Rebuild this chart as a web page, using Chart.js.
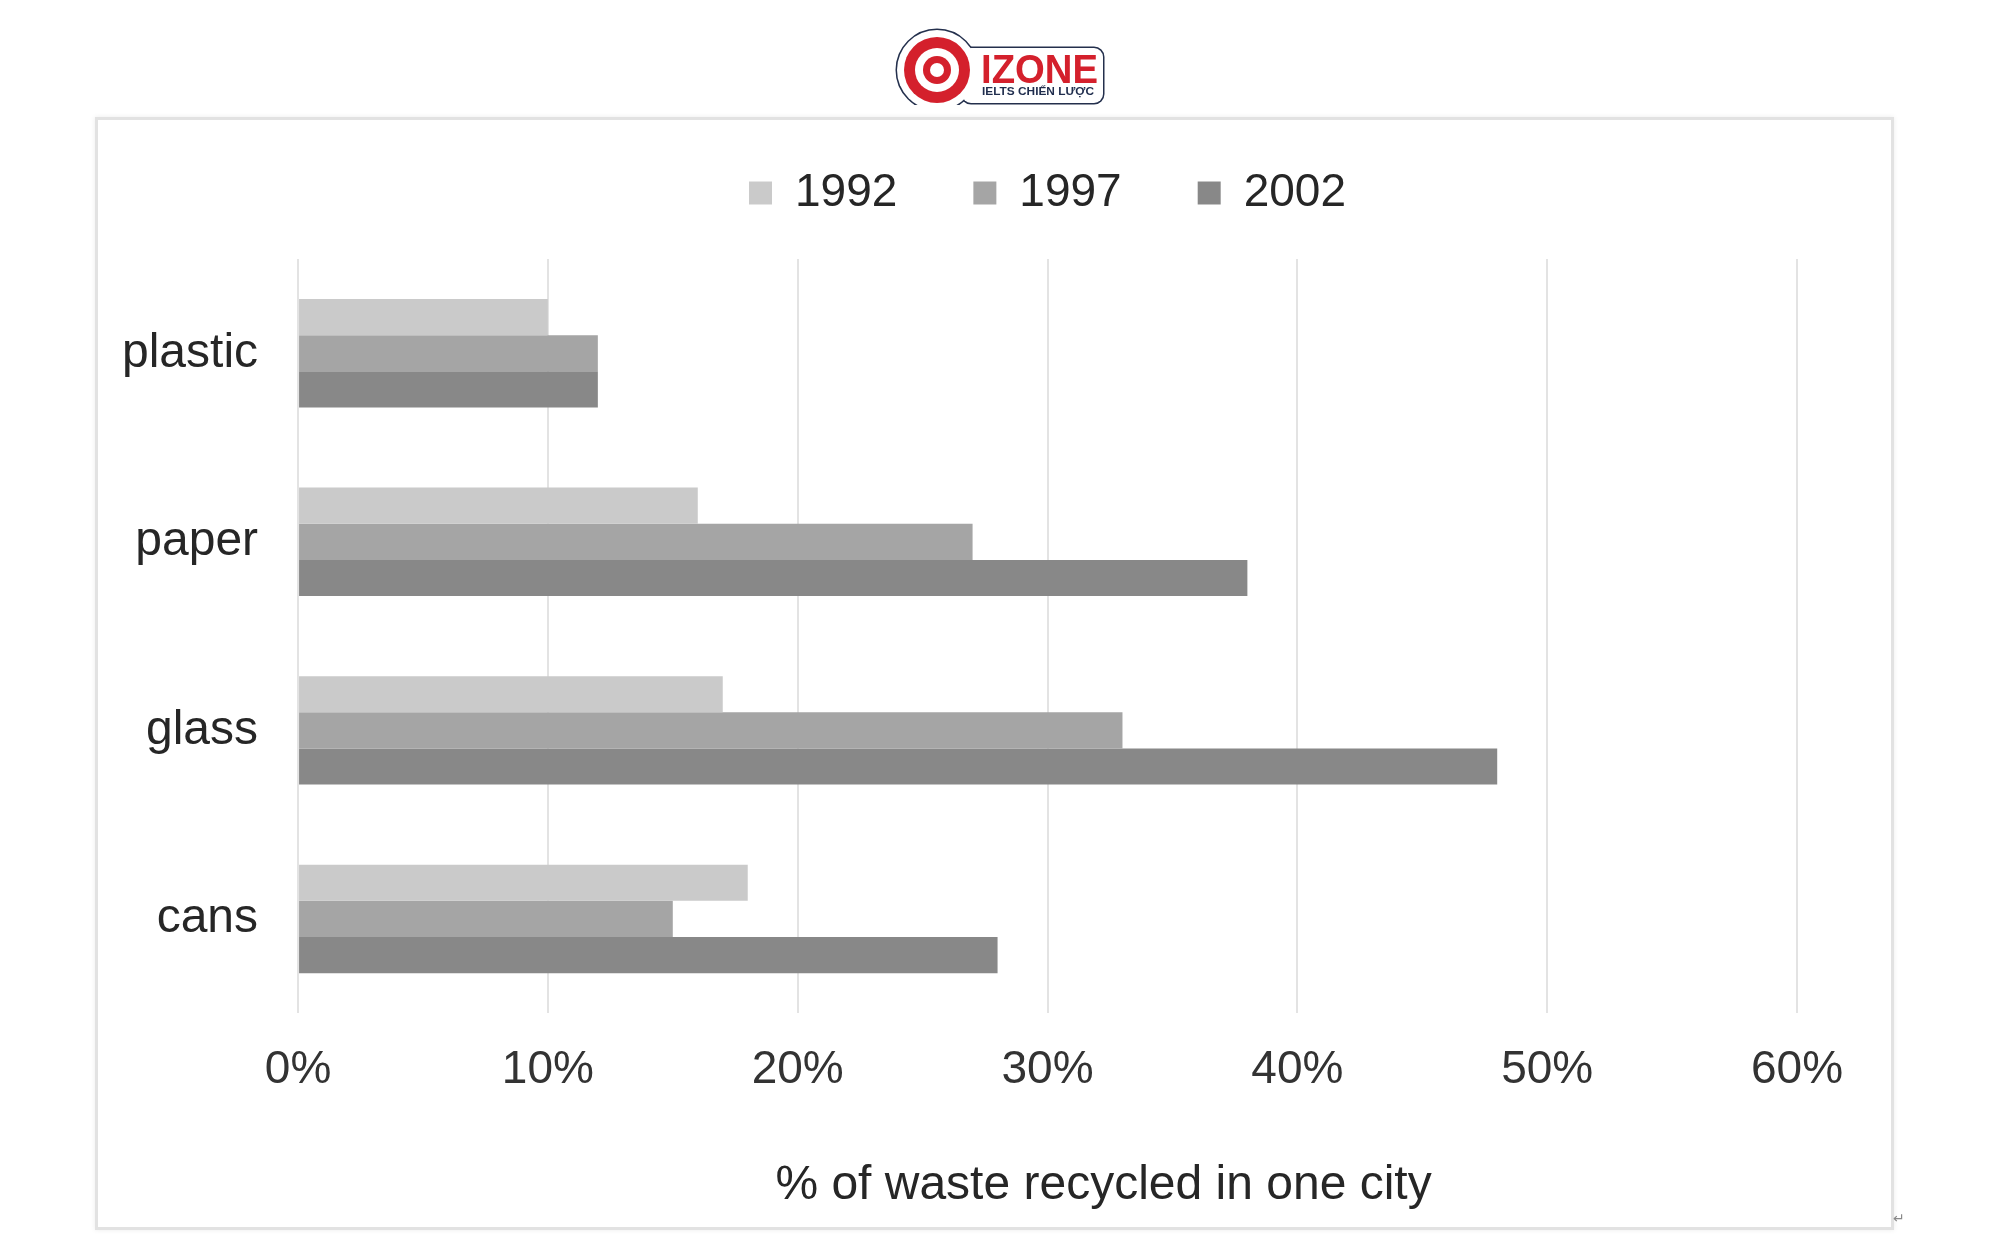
<!DOCTYPE html>
<html>
<head>
<meta charset="utf-8">
<script src="https://cdn.jsdelivr.net/npm/chart.js@4"></script>
<style>
  html, body { margin: 0; padding: 0; background: #fff; }
  #page { position: relative; width: 2000px; height: 1250px; overflow: hidden; }
  #frame {
    position: absolute; left: 95px; top: 117px; width: 1793px; height: 1107px;
    border: 3px solid #e2e2e2; box-shadow: 0 0 5px rgba(0,0,0,0.08);
  }
  #chart { position: absolute; left: 0; top: 0; }
  #logo { position: absolute; left: 890px; top: 22px; }
  #ret { position: absolute; left: 1893px; top: 1210px; font: 14px "DejaVu Sans"; color: #888; }
</style>
</head>
<body>
<div id="page">
  <div id="frame"></div>
  <canvas id="chart" width="2000" height="1250"></canvas>
  <svg id="logo" width="224" height="83" viewBox="0 0 224 83">
    <g stroke="#24304d" stroke-width="3" fill="#fff">
      <circle cx="47" cy="48" r="40"/>
      <rect x="72" y="26" width="141" height="55" rx="9"/>
    </g>
    <g fill="#fff">
      <circle cx="47" cy="48" r="40"/>
      <rect x="72" y="26" width="141" height="55" rx="9"/>
    </g>
    <circle cx="47" cy="48" r="33" fill="#d4202c"/>
    <circle cx="47" cy="48" r="22" fill="#fff"/>
    <circle cx="47" cy="48" r="14" fill="#d4202c"/>
    <circle cx="47" cy="48" r="7" fill="#fff"/>
    <text x="91" y="61" font-family="Liberation Sans, Arial" font-weight="bold" font-size="40" fill="#d4202c" textLength="117" lengthAdjust="spacingAndGlyphs">IZONE</text>
    <text x="92" y="73" font-family="Liberation Sans, Arial" font-weight="bold" font-size="11.5" fill="#1f2d4d" textLength="112" lengthAdjust="spacingAndGlyphs">IELTS CHIẾN LƯỢC</text>
  </svg>
  <span id="ret">↵</span>
</div>
<script>
const categories = ['plastic', 'paper', 'glass', 'cans'];
const years = ['1992', '1997', '2002'];
const values1992 = [10, 16, 17, 18];
const values1997 = [12, 27, 33, 15];
const values2002 = [12, 38, 48, 28];
const xTicks = [0, 10, 20, 30, 40, 50, 60];
const colors = ['#cacaca', '#a5a5a5', '#888888'];
const xTitle = '% of waste recycled in one city';

const font = 'Liberation Sans, Arial, sans-serif';

// keep the legend short so the plot starts where the reference does
const legendHeight = {
  id: 'legendHeight',
  beforeInit(chart) {
    const fit = chart.legend.fit;
    chart.legend.fit = function () {
      fit.call(this);
      this.height = 165;
    };
  }
};

// the axis title sits right of the plot centre in the original
const shiftedTitle = {
  id: 'shiftedTitle',
  afterDraw(chart) {
    const x = chart.scales.x;
    const c = chart.ctx;
    c.save();
    c.font = '48px ' + font;
    c.fillStyle = '#262626';
    c.textAlign = 'center';
    c.textBaseline = 'middle';
    c.fillText(xTitle, (chart.chartArea.left + chart.chartArea.right) / 2 + 56, x.bottom - 29);
    c.restore();
  }
};

const ctx = document.getElementById('chart').getContext('2d');
new Chart(ctx, {
  type: 'bar',
  data: {
    labels: categories,
    datasets: [
      { label: years[0], data: values1992, backgroundColor: colors[0] },
      { label: years[1], data: values1997, backgroundColor: colors[1] },
      { label: years[2], data: values2002, backgroundColor: colors[2] }
    ]
  },
  plugins: [legendHeight, shiftedTitle],
  options: {
    indexAxis: 'y',
    responsive: false,
    animation: false,
    devicePixelRatio: 1,
    categoryPercentage: 0.575,
    barPercentage: 1,
    layout: { padding: { left: 82, right: 203, top: 94, bottom: 35 } },
    plugins: {
      legend: {
        position: 'top',
        fullSize: false,
        labels: {
          boxWidth: 23,
          boxHeight: 23,
          padding: 76,
          color: '#262626',
          font: { family: font, size: 46 }
        }
      },
      tooltip: { enabled: false }
    },
    scales: {
      x: {
        min: xTicks[0],
        max: xTicks[xTicks.length - 1],
        afterBuildTicks: axis => { axis.ticks = xTicks.map(v => ({ value: v })); },
        grid: { color: '#e3e3e3', lineWidth: 2, drawTicks: false },
        border: { display: false },
        ticks: {
          padding: 30,
          color: '#333',
          font: { family: font, size: 46 },
          callback: v => v + '%'
        },
        title: {
          display: true,
          text: xTitle,
          color: 'transparent',
          font: { family: font, size: 48 },
          padding: { top: 29, bottom: 0 }
        }
      },
      y: {
        grid: { display: false, drawTicks: false },
        border: { display: false },
        ticks: {
          padding: 40,
          color: '#262626',
          font: { family: font, size: 48 }
        }
      }
    }
  }
});
</script>
</body>
</html>
